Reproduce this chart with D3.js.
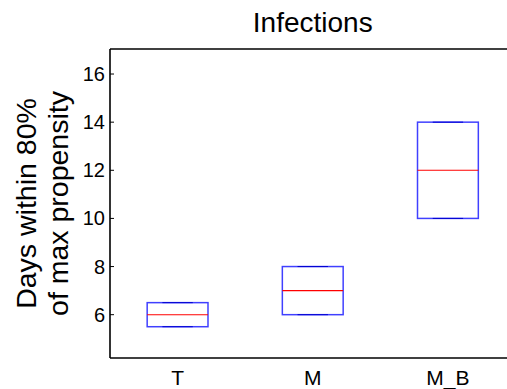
<!DOCTYPE html>
<html>
<head>
<meta charset="utf-8">
<script src="https://cdn.jsdelivr.net/npm/d3@7"></script>
<style>
  body { margin: 0; background: #fff; }
  svg { font-family: "Liberation Sans", Arial, sans-serif; }
</style>
</head>
<body>
<svg id="chart" width="507" height="389"></svg>
<script>
'use strict';
// box plot data
var categories = ['T', 'M', 'M_B'];
var q1 = [5.5, 6, 10];
var medians = [6, 7, 12];
var q3 = [6.5, 8, 14];
var whiskerLo = [5.5, 6, 10];
var whiskerHi = [6.5, 8, 14];
var yTicks = [6, 8, 10, 12, 14, 16];

var plotLeft = 110, plotRight = 515.5, plotTop = 49, plotBottom = 358;

var svg = d3.select('#chart');

var x = d3.scaleBand()
    .domain(categories)
    .range([plotLeft, plotRight])
    .padding(0);
var y = d3.scaleLinear()
    .domain([4.2, 17.04])
    .range([plotBottom, plotTop]);

var bw = x.bandwidth();
var boxW = bw * 0.45;
var capW = bw * 0.225;

var rows = categories.map(function(c, i){
    return {cat: c, q1: q1[i], med: medians[i], q3: q3[i], lo: whiskerLo[i], hi: whiskerHi[i]};
});

// title
svg.append('text')
    .attr('x', (plotLeft + plotRight) / 2)
    .attr('y', 32)
    .attr('text-anchor', 'middle')
    .attr('font-size', '28px')
    .text('Infections');

// y label
var yl = svg.append('text')
    .attr('transform', 'translate(0,' + ((plotTop + plotBottom) / 2) + ') rotate(-90)')
    .attr('text-anchor', 'middle')
    .attr('font-size', '28.5px');
yl.append('tspan').attr('x', 0).attr('y', 36).text('Days within 80%');
yl.append('tspan').attr('x', 0).attr('y', 68).text('of max propensity');

// spines
var ax = svg.append('g').attr('stroke', '#000').attr('stroke-width', 1.6).attr('fill', 'none');
ax.append('line').attr('x1', plotLeft).attr('x2', plotLeft).attr('y1', plotTop).attr('y2', plotBottom);
ax.append('line').attr('x1', plotLeft).attr('x2', 507).attr('y1', plotTop).attr('y2', plotTop);
ax.append('line').attr('x1', plotLeft).attr('x2', 507).attr('y1', plotBottom).attr('y2', plotBottom);

// y ticks
var yt = svg.selectAll('.ytick')
    .data(yTicks)
    .enter()
    .append('g')
    .attr('class', 'ytick');
yt.append('line')
    .attr('x1', plotLeft).attr('x2', plotLeft + 4)
    .attr('y1', function(d){return y(d);})
    .attr('y2', function(d){return y(d);})
    .attr('stroke', '#000');
yt.append('text')
    .attr('x', plotLeft - 5)
    .attr('y', function(d){return y(d) + 7;})
    .attr('text-anchor', 'end')
    .attr('font-size', '20px')
    .text(function(d){return d;});

// x labels
svg.selectAll('.xlab')
    .data(categories)
    .enter()
    .append('text')
    .attr('class', 'xlab')
    .attr('x', function(d){return x(d) + bw / 2;})
    .attr('y', 384.5)
    .attr('text-anchor', 'middle')
    .attr('font-size', '21px')
    .text(function(d){return d;});

// boxes
var g = svg.selectAll('.box')
    .data(rows)
    .enter()
    .append('g')
    .attr('class', 'box');
g.append('rect')
    .attr('x', function(d){return x(d.cat) + (bw - boxW) / 2;})
    .attr('y', function(d){return y(d.q3);})
    .attr('width', boxW)
    .attr('height', function(d){return y(d.q1) - y(d.q3);})
    .attr('fill', 'none')
    .attr('stroke', '#0000ff')
    .attr('stroke-opacity', 0.75)
    .attr('stroke-width', 1.5);
g.append('line')
    .attr('x1', function(d){return x(d.cat) + (bw - capW) / 2;})
    .attr('x2', function(d){return x(d.cat) + (bw + capW) / 2;})
    .attr('y1', function(d){return y(d.hi);})
    .attr('y2', function(d){return y(d.hi);})
    .attr('stroke', '#0000d0').attr('stroke-width', 1);
g.append('line')
    .attr('x1', function(d){return x(d.cat) + (bw - capW) / 2;})
    .attr('x2', function(d){return x(d.cat) + (bw + capW) / 2;})
    .attr('y1', function(d){return y(d.lo);})
    .attr('y2', function(d){return y(d.lo);})
    .attr('stroke', '#0000d0').attr('stroke-width', 1);
g.append('line')
    .attr('x1', function(d){return x(d.cat) + (bw - boxW) / 2;})
    .attr('x2', function(d){return x(d.cat) + (bw + boxW) / 2;})
    .attr('y1', function(d){return y(d.med);})
    .attr('y2', function(d){return y(d.med);})
    .attr('stroke', '#ff0000').attr('stroke-width', 1.1);
</script>
</body>
</html>
